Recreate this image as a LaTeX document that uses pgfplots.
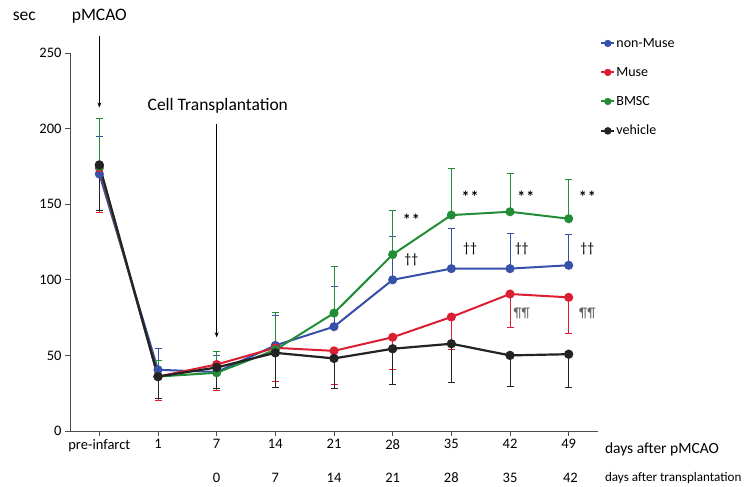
\documentclass[border=0pt]{standalone}
\usepackage{pgfplots}
\pgfplotsset{compat=1.18}
\usepackage{fontspec}
\setmainfont{Carlito}
\usetikzlibrary{arrows.meta}
\definecolor{cblue}{RGB}{55,80,170}
\definecolor{cred}{RGB}{220,30,50}
\definecolor{cgreen}{RGB}{35,140,55}
\definecolor{cblack}{RGB}{35,35,35}
\begin{document}
\begin{tikzpicture}
\begin{axis}[
 scale only axis, width=528pt, height=378pt,
 xmin=-0.5, xmax=8.5, ymin=0, ymax=250,
 axis x line*=bottom, axis y line*=left,
 xtick={0,...,8}, xticklabels={pre-infarct,1,7,14,21,28,35,42,49},
 ytick={0,50,...,250},
 tick align=outside, major tick length=5pt,
 tick style={black!70, line width=0.6pt},
 axis line style={black!70, line width=0.8pt},
 ticklabel style={font=\fontsize{14.5}{16}\selectfont},
 /pgf/number format/assume math mode=true,
 clip=false,
 legend style={at={(1,1)}, anchor=north west, xshift=2pt, yshift=17pt,
   draw=none, fill=none, font=\fontsize{14}{16}\selectfont,
   row sep=14.5pt, cells={anchor=west}, inner sep=0pt,
   nodes={inner xsep=1pt}},
 legend image code/.code={\draw[mark repeat=2,mark phase=2,#1, mark size=2.6pt] plot coordinates {(0pt,0pt) (6.5pt,0pt) (13pt,0pt)};},
]
\addplot[cblue, line width=2pt, mark=*, mark size=3.5pt, mark options={fill=cblue},
  error bars/.cd, y dir=plus, y explicit, error bar style={line width=0.6pt, cblue}]
 coordinates {(0,170) +- (0,25) (1,40.5) +- (0,14) (2,39) +- (0,11) (3,56.6) +- (0,20)
  (4,69) +- (0,26.5) (5,100) +- (0,28.6) (6,107.4) +- (0,26.6) (7,107.4) +- (0,23.6) (8,109.6) +- (0,20.4)};
\addlegendentry{non-Muse}
\addplot[cred, line width=2pt, mark=*, mark size=3.5pt, mark options={fill=cred},
  error bars/.cd, y dir=minus, y explicit, error bar style={line width=0.6pt, cred}]
 coordinates {(0,174) +- (0,29) (1,36) +- (0,15.5) (2,44) +- (0,17) (3,55) +- (0,22)
  (4,53) +- (0,22) (5,62) +- (0,21) (6,75.4) +- (0,21) (7,90.6) +- (0,21.8) (8,88.4) +- (0,23.4)};
\addlegendentry{Muse}
\addplot[cgreen, line width=2pt, mark=*, mark size=3.5pt, mark options={fill=cgreen},
  error bars/.cd, y dir=plus, y explicit, error bar style={line width=0.6pt, cgreen}]
 coordinates {(0,175) +- (0,32) (1,36) +- (0,11) (2,38.5) +- (0,14) (3,53.7) +- (0,25)
  (4,78) +- (0,31) (5,116.7) +- (0,29) (6,142.8) +- (0,31) (7,145) +- (0,25.4) (8,140.4) +- (0,26)};
\addlegendentry{BMSC}
\addplot[cblack, line width=2.2pt, mark=*, mark size=3.5pt, mark options={fill=cblack},
  error bars/.cd, y dir=minus, y explicit, error bar style={line width=0.6pt, cblack}]
 coordinates {(0,176) +- (0,30) (1,36) +- (0,14) (2,42) +- (0,14) (3,51.7) +- (0,23)
  (4,48) +- (0,20) (5,54.4) +- (0,23.4) (6,57.7) +- (0,25.4) (7,50) +- (0,20.6) (8,50.8) +- (0,21.8)};
\addlegendentry{vehicle}

% annotations
\begin{scope}[font=\fontsize{14}{16}\selectfont]
\node[font=\fontsize{16}{18}\selectfont\bfseries] at (axis cs:5.32,140) {*\kern1pt*};
\node[font=\fontsize{16}{18}\selectfont\bfseries] at (axis cs:6.32,155) {*\kern1pt*};
\node[font=\fontsize{16}{18}\selectfont\bfseries] at (axis cs:7.27,155) {*\kern1pt*};
\node[font=\fontsize{16}{18}\selectfont\bfseries] at (axis cs:8.32,155) {*\kern1pt*};
\node at (axis cs:5.32,113.4) {††};
\node at (axis cs:6.32,120.7) {††};
\node at (axis cs:7.2,120.7) {††};
\node at (axis cs:8.32,120.7) {††};
\node[text=black!60] at (axis cs:7.2,78) {¶¶};
\node[text=black!60] at (axis cs:8.32,78) {¶¶};
\end{scope}

\draw[-{Stealth[length=5pt,width=4pt]}, line width=0.6pt] (axis cs:0,261) -- (axis cs:0,214);
\draw[-{Stealth[length=5pt,width=4pt]}, line width=0.6pt] (axis cs:2,203) -- (axis cs:2,62);
\node[font=\fontsize{17.5}{20}\selectfont] at (axis cs:0,274.5) {pMCAO};
\node[font=\fontsize{17.5}{20}\selectfont] at (axis cs:2.02,215) {Cell Transplantation};
\node[font=\fontsize{17.5}{20}\selectfont] at (axis cs:-1.28,274.5) {sec};

% second row of x labels
\begin{scope}[font=\fontsize{14.5}{16}\selectfont]
\node[yshift=-47pt] at (axis cs:2,0) {0};
\node[yshift=-47pt] at (axis cs:3,0) {7};
\node[yshift=-47pt] at (axis cs:4,0) {14};
\node[yshift=-47pt] at (axis cs:5,0) {21};
\node[yshift=-47pt] at (axis cs:6,0) {28};
\node[yshift=-47pt] at (axis cs:7,0) {35};
\node[yshift=-47pt] at (axis cs:8.03,0) {42};
\node[anchor=west, yshift=-18pt, inner xsep=0pt, font=\fontsize{15.5}{17}\selectfont] at (rel axis cs:1.013,0) {days after pMCAO};
\node[anchor=west, yshift=-47pt, inner xsep=0pt, font=\fontsize{13.1}{15}\selectfont] at (rel axis cs:1.013,0) {days after transplantation};
\end{scope}
\end{axis}
\pgfresetboundingbox
\path ([xshift=-70pt,yshift=-55pt]current axis.south west) rectangle ([xshift=148pt,yshift=53pt]current axis.north east);
\end{tikzpicture}
\end{document}
